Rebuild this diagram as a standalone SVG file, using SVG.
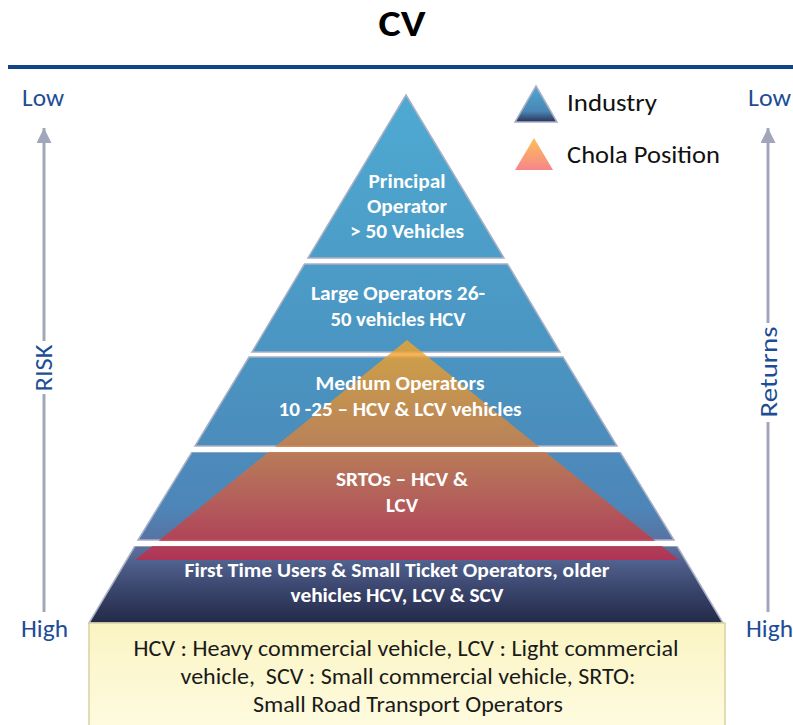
<svg xmlns="http://www.w3.org/2000/svg" width="793" height="725" viewBox="0 0 793 725">
<style>
text{font-family:Carlito,"Liberation Sans",Arial,sans-serif}
.band{stroke:#a9afc6;stroke-width:1.5;fill:url(#blue)}
.bt{fill:#fff;font-weight:bold;font-size:20px;text-anchor:middle}
.axis{fill:#1d4d96;font-size:24px}
.note{fill:#1a1a1a;font-size:22px;text-anchor:middle}
.leg{fill:#111;font-size:25px}
.arrowline{stroke:#a2a6ba;stroke-width:3}
</style>
<defs>
<linearGradient id="blue" gradientUnits="userSpaceOnUse" x1="0" y1="95" x2="0" y2="623">
<stop offset="0" stop-color="#4eaad2"/>
<stop offset="0.55" stop-color="#4a92bf"/>
<stop offset="0.78" stop-color="#4d86b8"/>
<stop offset="0.86" stop-color="#5a6e9c"/>
<stop offset="0.93" stop-color="#3d4870"/>
<stop offset="1" stop-color="#232a48"/>
</linearGradient>
<linearGradient id="orange" gradientUnits="userSpaceOnUse" x1="0" y1="340" x2="0" y2="560">
<stop offset="0" stop-color="#f2a62a"/>
<stop offset="0.45" stop-color="#d6823e"/>
<stop offset="1" stop-color="#c42848"/>
</linearGradient>
<linearGradient id="legBlue" x1="0" y1="0" x2="0" y2="1">
<stop offset="0" stop-color="#4ea8d0"/>
<stop offset="0.7" stop-color="#4a86b6"/>
<stop offset="1" stop-color="#2a3258"/>
</linearGradient>
<linearGradient id="legOrange" x1="0" y1="0" x2="0" y2="1">
<stop offset="0" stop-color="#fdc058"/>
<stop offset="1" stop-color="#f5868a"/>
</linearGradient>
<linearGradient id="noteFill" x1="0" y1="0" x2="0" y2="1">
<stop offset="0" stop-color="#faf4c2"/>
<stop offset="1" stop-color="#fefbe0"/>
</linearGradient>
<marker id="ah" viewBox="0 0 10 10" refX="10" refY="5" markerWidth="5" markerHeight="5" orient="auto" markerUnits="strokeWidth">
<path d="M0,0 L10,5 L0,10 z" fill="#a2a6ba"/>
</marker>
</defs>

<rect width="793" height="725" fill="#fff"/>

<g id="title">
<text x="402" y="36" font-size="36" font-weight="bold" text-anchor="middle" fill="#000" textLength="47" lengthAdjust="spacingAndGlyphs">CV</text>
<rect x="8" y="65" width="785" height="4" fill="#144488"/>
</g>

<g id="connectors">
<line class="arrowline" x1="44" y1="612" x2="44" y2="394"/>
<line class="arrowline" x1="44" y1="341" x2="44" y2="128" marker-end="url(#ah)"/>
<line class="arrowline" x1="768" y1="612" x2="768" y2="422"/>
<line class="arrowline" x1="768" y1="323" x2="768" y2="128" marker-end="url(#ah)"/>
</g>

<g id="risk-axis">
<text class="axis" x="22" y="106" textLength="42" lengthAdjust="spacingAndGlyphs">Low</text>
<text class="axis" x="21" y="637" textLength="47" lengthAdjust="spacingAndGlyphs">High</text>
<text class="axis" transform="translate(52,368) rotate(-90)" text-anchor="middle" textLength="47" lengthAdjust="spacingAndGlyphs">RISK</text>
</g>
<g id="returns-axis">
<text class="axis" x="748" y="106" textLength="43" lengthAdjust="spacingAndGlyphs">Low</text>
<text class="axis" x="746" y="637" textLength="47" lengthAdjust="spacingAndGlyphs">High</text>
<text class="axis" transform="translate(777,372) rotate(-90)" text-anchor="middle" textLength="91" lengthAdjust="spacingAndGlyphs">Returns</text>
</g>

<g id="pyramid">
<polygon class="band" id="band1" points="406,95 504,258 308,258"/>
<polygon class="band" id="band2" points="304.5,264 507.5,264 560,352 252,352"/>
<polygon class="band" id="band3" points="249,357 563,357 617,446 195,446"/>
<polygon class="band" id="band4" points="192,452 620,452 674,540 138,540"/>
<polygon class="band" id="band5" points="135,546 677,546 723,623 89,623"/>
</g>

<g id="chola">
<polygon points="407,340 679,560 135,560" fill="url(#orange)" opacity="0.8"/>
<rect x="100" y="447" width="600" height="5" fill="#fff"/>
<rect x="100" y="541" width="620" height="5" fill="#fff"/>
</g>

<g id="band-labels">
<text class="bt" x="407" y="188" textLength="77" lengthAdjust="spacingAndGlyphs">Principal</text>
<text class="bt" x="407" y="213" textLength="80" lengthAdjust="spacingAndGlyphs">Operator</text>
<text class="bt" x="407" y="238" textLength="114" lengthAdjust="spacingAndGlyphs">&gt; 50 Vehicles</text>
<text class="bt" x="398" y="300" textLength="174" lengthAdjust="spacingAndGlyphs">Large Operators 26-</text>
<text class="bt" x="398" y="326" textLength="135" lengthAdjust="spacingAndGlyphs">50 vehicles HCV</text>
<text class="bt" x="400" y="390" textLength="169" lengthAdjust="spacingAndGlyphs">Medium Operators</text>
<text class="bt" x="400" y="416" textLength="243" lengthAdjust="spacingAndGlyphs">10 -25 – HCV &amp; LCV vehicles</text>
<text class="bt" x="402" y="486" textLength="132" lengthAdjust="spacingAndGlyphs">SRTOs – HCV &amp;</text>
<text class="bt" x="402" y="512" textLength="32" lengthAdjust="spacingAndGlyphs">LCV</text>
<text class="bt" x="397" y="577" textLength="425" lengthAdjust="spacingAndGlyphs">First Time Users &amp; Small Ticket Operators, older</text>
<text class="bt" x="397" y="602" textLength="213" lengthAdjust="spacingAndGlyphs">vehicles HCV, LCV &amp; SCV</text>
</g>

<g id="note">
<rect x="89" y="623" width="636" height="106" fill="url(#noteFill)" stroke="#d9d1a2" stroke-width="1.5"/>
<text class="note" x="406" y="656" textLength="545" lengthAdjust="spacingAndGlyphs">HCV : Heavy commercial vehicle, LCV : Light commercial</text>
<text class="note" x="408" y="684" textLength="455" lengthAdjust="spacingAndGlyphs">vehicle, &#160;SCV : Small commercial vehicle, SRTO:</text>
<text class="note" x="408" y="712" textLength="310" lengthAdjust="spacingAndGlyphs">Small Road Transport Operators</text>
</g>

<g id="legend-industry">
<polygon points="536,86 557,122 515,122" fill="url(#legBlue)" stroke="#a9afc6" stroke-width="1.5"/>
<text class="leg" x="567" y="111" textLength="90" lengthAdjust="spacingAndGlyphs">Industry</text>
</g>
<g id="legend-chola">
<polygon points="534,138 553,170 515,170" fill="url(#legOrange)"/>
<text class="leg" x="567" y="163" textLength="153" lengthAdjust="spacingAndGlyphs">Chola Position</text>
</g>
</svg>
